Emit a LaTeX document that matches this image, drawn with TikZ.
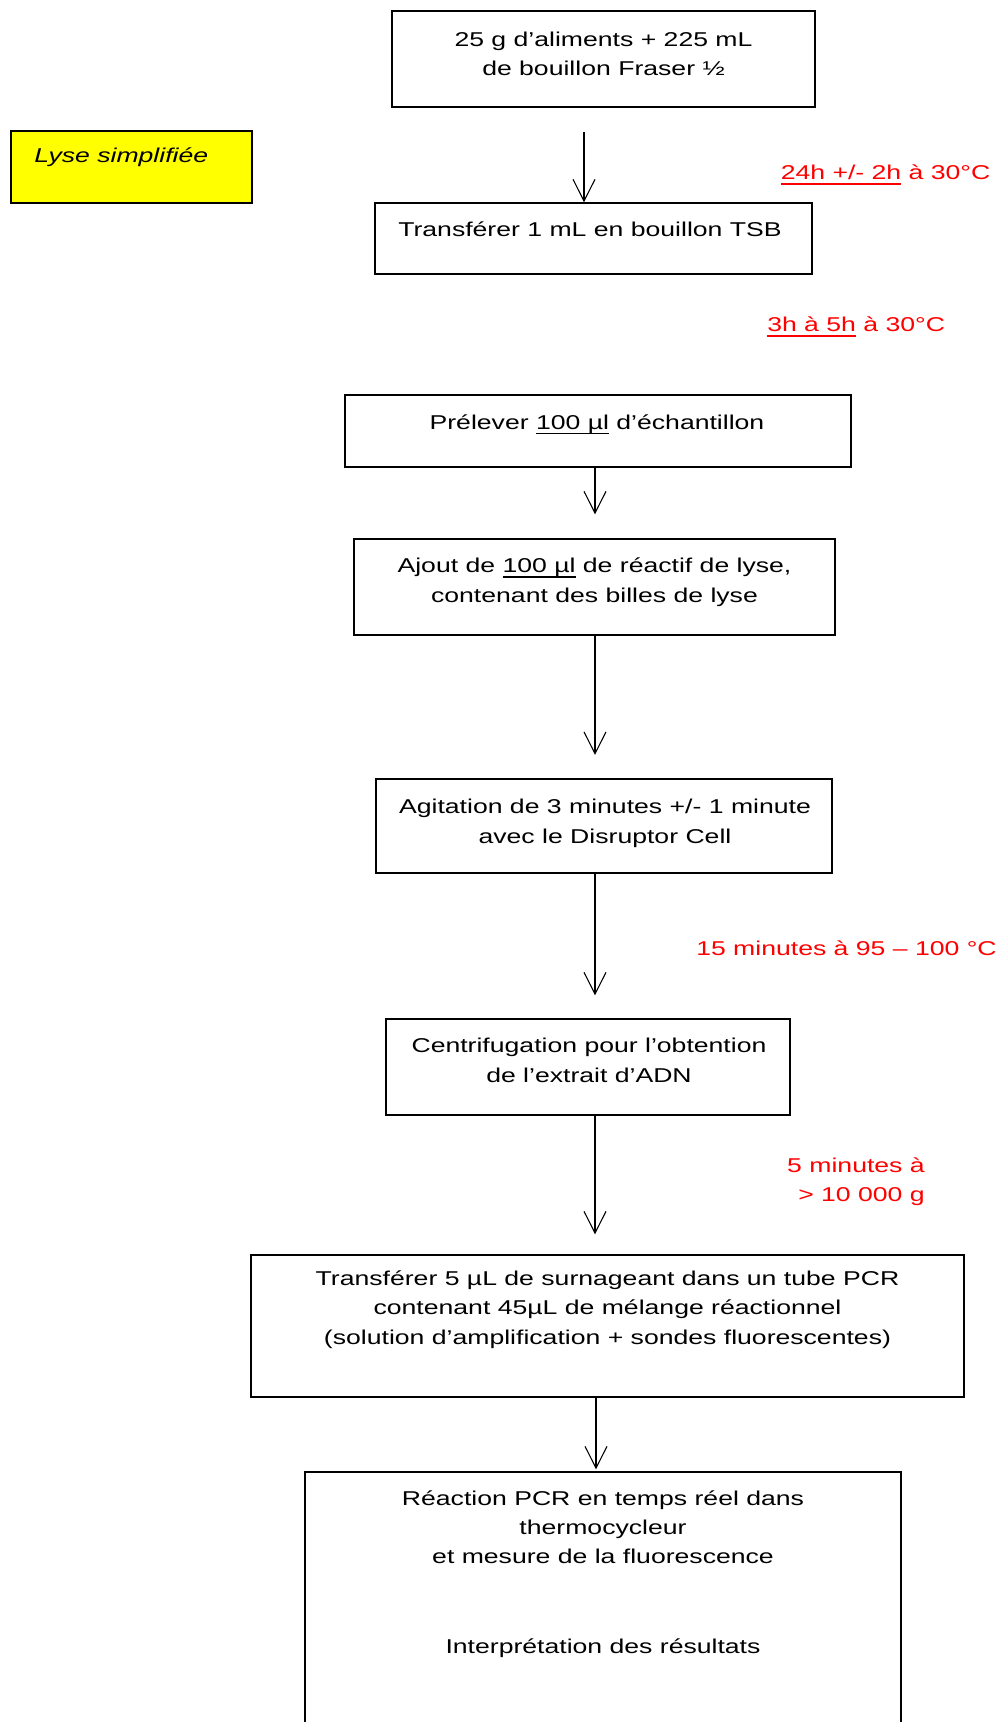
\documentclass[tikz,border=0pt]{standalone}
\usepackage{fontspec}
\setmainfont{Liberation Sans}[FakeStretch=1.33]
\usetikzlibrary{arrows.meta}
\definecolor{rouge}{RGB}{255,0,0}
\definecolor{jaune}{RGB}{255,255,0}
\newcommand{\souligne}[1]{\setbox0\hbox{#1}\rlap{\rule[-4pt]{\wd0}{1.3pt}}\box0\relax}

\begin{document}
\begin{tikzpicture}[x=0.75pt,y=-0.75pt,
    boite/.style={draw,line width=1.1pt,inner sep=0pt},
    texte/.style={align=center,inner sep=0pt,font=\fontsize{15}{22}\selectfont},
    duree/.style={texte,text=rouge},
    fleche/.style={line width=0.8pt,-{Straight Barb[length=16.3pt,width=16.5pt]}}]
    \useasboundingbox (0,0) rectangle (997,1722);
    \clip (0,0) rectangle (997,1722);

    \node[boite,minimum width=317.25pt,minimum height=72pt] (b1) at (603.5,59) {};
    \node[boite,minimum width=327.75pt,minimum height=53.25pt] (b2) at (593.5,238.5) {};
    \node[boite,minimum width=379.5pt,minimum height=54pt] (b3) at (598,431) {};
    \node[boite,minimum width=360.75pt,minimum height=72pt] (b4) at (594.5,587) {};
    \node[boite,minimum width=342pt,minimum height=70.5pt] (b5) at (604,826) {};
    \node[boite,minimum width=303pt,minimum height=72pt] (b6) at (588,1067) {};
    \node[boite,minimum width=534.75pt,minimum height=106.5pt] (b7) at (607.5,1326) {};
    \node[boite,minimum width=447pt,minimum height=201pt] (b8) at (603,1606) {};
    \node[boite,fill=jaune,minimum width=180.75pt,minimum height=54pt] (lyse) at (131.5,167) {};

    \node[texte,anchor=base] (t1) at (603.5,75.5) {25 g d’aliments + 225 mL\\de bouillon Fraser ½};
    \node[texte,anchor=base] (t2) at (590,237) {Transférer 1 mL en bouillon TSB};
    \node[texte,anchor=base] (t3) at (597,429) {Prélever \souligne{100 µl} d’échantillon};
    \node[texte,anchor=base] (t4) at (594.5,602) {Ajout de \souligne{100 µl} de réactif de lyse,\\contenant des billes de lyse};
    \node[texte,anchor=base] (t5) at (605,843) {Agitation de 3 minutes +/- 1 minute\\avec le Disruptor Cell};
    \node[texte,anchor=base] (t6) at (589,1082) {Centrifugation pour l’obtention\\de l’extrait d’ADN};
    \node[texte,anchor=base] (t7) at (607.5,1344) {Transférer 5 µL de surnageant dans un tube PCR\\contenant 45µL de mélange réactionnel\\(solution d’amplification + sondes fluorescentes)};
    \node[texte,anchor=base] (t8) at (603,1653) {Réaction PCR en temps réel dans\\thermocycleur\\et mesure de la fluorescence\\[45pt]Interprétation des résultats};
    \node[texte,anchor=base west,font=\fontsize{15}{22}\selectfont\itshape] (tlyse) at (34,163) {Lyse simplifiée};

    \node[duree,anchor=base west] (r1) at (780.5,179.3) {\souligne{24h +/- 2h} à 30°C};
    \node[duree,anchor=base west] (r2) at (767,331.7) {\souligne{3h à 5h} à 30°C};
    \node[duree,anchor=base west] (r3) at (696,955) {15 minutes à 95 – 100 °C};
    \node[duree,anchor=base east,align=right] (r4) at (925,1201.7) {5 minutes à\\> 10 000 g};

    \coordinate (axe1) at (584,0);
    \coordinate (axe) at (595,0);
    \coordinate (axe2) at (596,0);
    \draw[fleche,shorten <=18pt] (b1.south -| axe1) -- (b2.north -| axe1);
    \draw[fleche,shorten >=18pt] (b3.south -| axe) -- (b4.north -| axe);
    \draw[fleche,shorten >=17.6pt] (b4.south -| axe) -- (b5.north -| axe);
    \draw[fleche,shorten >=17.25pt] (b5.south -| axe) -- (b6.north -| axe);
    \draw[fleche,shorten >=15pt] (b6.south -| axe) -- (b7.north -| axe);
    \draw[fleche,shorten >=1.5pt] (b7.south -| axe2) -- (b8.north -| axe2);
\end{tikzpicture}
\end{document}
